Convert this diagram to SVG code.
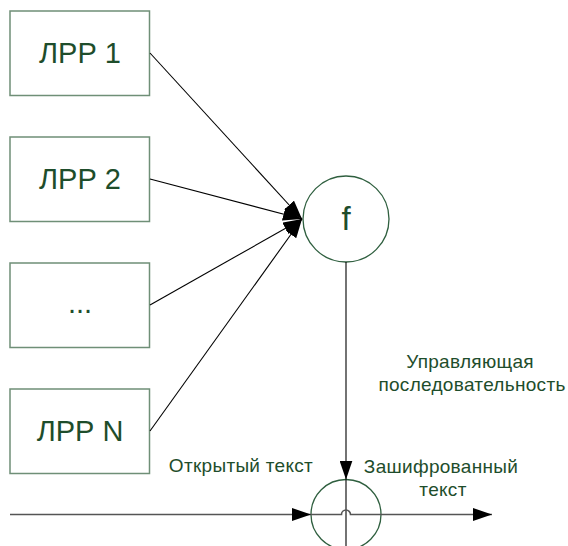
<svg xmlns="http://www.w3.org/2000/svg" width="568" height="546" viewBox="0 0 568 546">
  <style>
    .box { fill: #ffffff; stroke: #6f8f77; stroke-width: 1.5; }
    .node-circle { fill: none; stroke: #2f5f3f; stroke-width: 1.3; }
    .lbl { font-family: "Liberation Sans", Arial, sans-serif; fill: #1e4d2b; text-anchor: middle; }
    .big { font-size: 29px; }
    .small { font-size: 19px; letter-spacing: 0.3px; }
    .wire { fill: none; stroke: #000000; stroke-width: 1.1; }
    .bus { fill: none; stroke: #555555; stroke-width: 1.6; }
  </style>
  <defs>
    <marker id="arrow" markerUnits="userSpaceOnUse" markerWidth="20" markerHeight="13" refX="19" refY="6.5" orient="auto">
      <path d="M0,0 L19,6.5 L0,13 z" fill="#000000"/>
    </marker>
  </defs>

  <rect width="568" height="546" fill="#ffffff"/>

  <g id="lrr1">
    <rect class="box" x="10" y="11" width="139.5" height="84.5"/>
    <text class="lbl big" x="80" y="63">ЛРР 1</text>
  </g>
  <g id="lrr2">
    <rect class="box" x="10" y="137" width="139.5" height="84.5"/>
    <text class="lbl big" x="80" y="189">ЛРР 2</text>
  </g>
  <g id="lrr-dots">
    <rect class="box" x="10" y="263" width="139.5" height="84.5"/>
    <text class="lbl big" x="80" y="313">...</text>
  </g>
  <g id="lrrN">
    <rect class="box" x="10" y="389" width="139.5" height="84.5"/>
    <text class="lbl big" x="80" y="441">ЛРР N</text>
  </g>

  <g id="func">
    <circle class="node-circle" cx="346" cy="219" r="43"/>
    <text class="lbl" x="346" y="230" style="font-size:33px">f</text>
  </g>

  <g id="xor">
    <circle class="node-circle" cx="346" cy="514.5" r="35"/>
  </g>

  <!-- connectors -->
  <g id="connectors">
    <line class="wire" x1="150" y1="53" x2="302" y2="219" marker-end="url(#arrow)"/>
    <line class="wire" x1="150" y1="179" x2="302" y2="219" marker-end="url(#arrow)"/>
    <line class="wire" x1="150" y1="305" x2="302" y2="219" marker-end="url(#arrow)"/>
    <line class="wire" x1="150" y1="431" x2="302" y2="219" marker-end="url(#arrow)"/>
    <line class="wire" x1="346" y1="262" x2="346" y2="479.5" marker-end="url(#arrow)"/>
    <line class="wire" x1="346" y1="479.5" x2="346" y2="546"/>
    <line class="bus" x1="10" y1="514.5" x2="311" y2="514.5" marker-end="url(#arrow)"/>
    <path class="bus" d="M311,514.5 H341.5 A4.5,4.5 0 0 1 350.5,514.5 H381"/>
    <line class="bus" x1="381" y1="514.5" x2="492" y2="514.5" marker-end="url(#arrow)"/>
  </g>

  <g id="labels">
    <text class="lbl small" x="470" y="368">Управляющая</text>
    <text class="lbl small" x="472" y="391">последовательность</text>
    <text class="lbl small" x="241" y="472">Открытый текст</text>
    <text class="lbl small" x="441" y="473">Зашифрованный</text>
    <text class="lbl small" x="443" y="496">текст</text>
  </g>
</svg>
